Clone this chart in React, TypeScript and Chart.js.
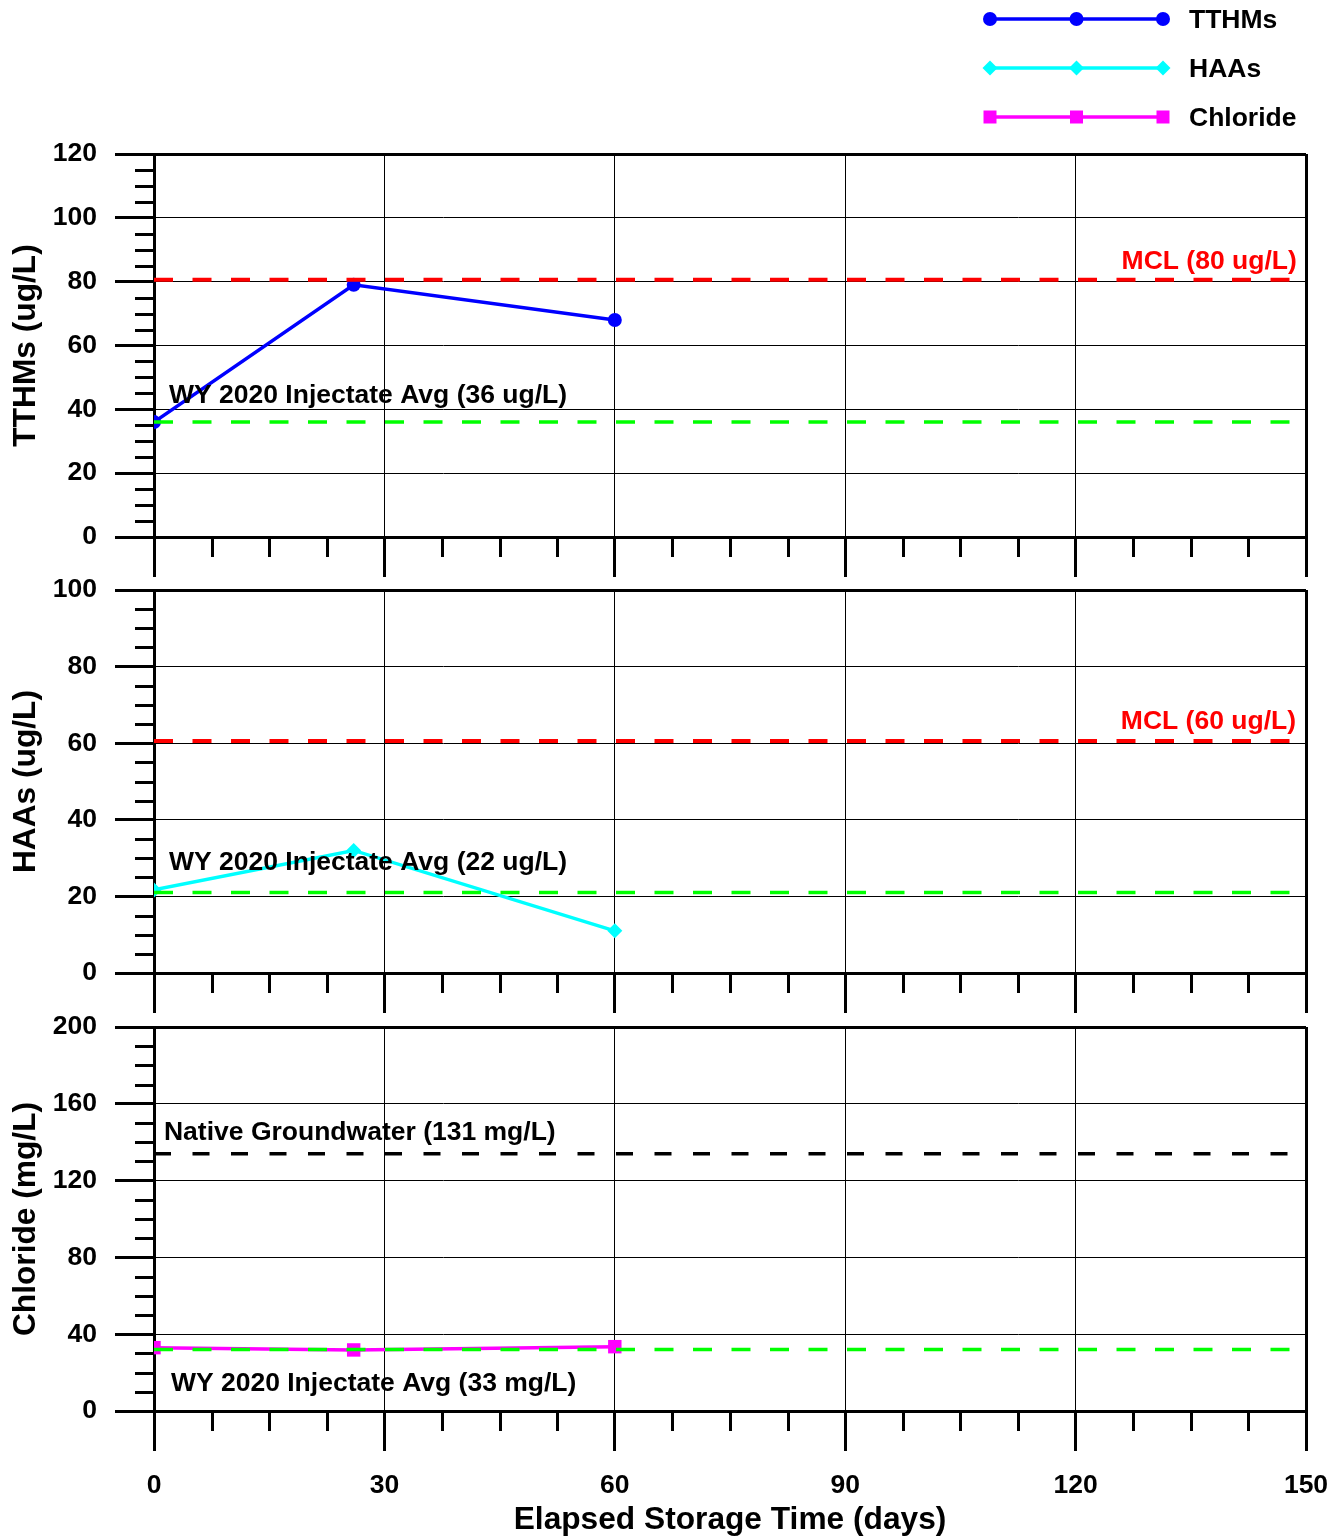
import React, { useEffect, useRef } from "react";
import { Chart, registerables } from "chart.js";

Chart.register(...registerables);

// ---------- data ----------
const days = [0, 26, 60];
const tthmValues = [36, 79, 68];
const haaValues = [21.7, 32, 11];
const chlorideValues = [33, 31.8, 33.5];

const seriesNames = ["TTHMs", "HAAs", "Chloride"];
const seriesColors = ["#0000ff", "#00ffff", "#ff00ff"];
const seriesPointStyles = ["circle", "rectRot", "rect"];

const xTickValues = [0, 30, 60, 90, 120, 150];
const xTitle = "Elapsed Storage Time (days)";

const yTitles = ["TTHMs (ug/L)", "HAAs (ug/L)", "Chloride (mg/L)"];
const yMaxes = [120, 100, 200];
const yMajorSteps = [20, 20, 40];
const yMinorSteps = [5, 5, 10];

// reference lines per panel
const tthmRefValues = [80.6, 36];
const tthmRefColors = ["#ff0000", "#00ff00"];
const haaRefValues = [60.6, 21];
const haaRefColors = ["#ff0000", "#00ff00"];
const chlorideRefValues = [134, 32];
const chlorideRefColors = ["#000000", "#00ff00"];

const tthmLabels = ["MCL (80 ug/L)", "WY 2020 Injectate Avg (36 ug/L)"];
const haaLabels = ["MCL (60 ug/L)", "WY 2020 Injectate Avg (22 ug/L)"];
const chlorideLabels = ["Native Groundwater (131 mg/L)", "WY 2020 Injectate Avg (33 mg/L)"];

// ---------- styling / layout ----------
const FONT = "'Liberation Sans', Arial, Helvetica, sans-serif";
const TICK_SIZE = 26.5;
const TITLE_SIZE = 31.7;
const W = 1342;

Chart.defaults.font.family = FONT;

type LabelSpec = { text: string; color: string; align: CanvasTextAlign; x: number; y: number };

type PanelSpec = {
  values: number[];
  seriesIndex: number;
  refValues: number[];
  refColors: string[];
  refDashes: number[][];
  refWidths: number[];
  labels: LabelSpec[];
  yTitle: string;
  yMax: number;
  yStep: number;
  yMinor: number;
  top: number;
  height: number;
  areaTop: number;
  areaBottom: number;
  showX: boolean;
  legend: boolean;
};

const redDash = [19, 19.5];
const greenDash = [19, 19.5];
const blackDash = [17, 21.5];

const panels: PanelSpec[] = [
  {
    values: tthmValues,
    seriesIndex: 0,
    refValues: tthmRefValues,
    refColors: tthmRefColors,
    refDashes: [redDash, greenDash],
    refWidths: [4, 3.5],
    labels: [
      { text: tthmLabels[0], color: "#ff0000", align: "right", x: 148.8, y: 86.2 },
      { text: tthmLabels[1], color: "#000000", align: "left", x: 1.95, y: 44.2 },
    ],
    yTitle: yTitles[0],
    yMax: yMaxes[0],
    yStep: yMajorSteps[0],
    yMinor: yMinorSteps[0],
    top: 0,
    height: 580,
    areaTop: 154,
    areaBottom: 537,
    showX: false,
    legend: true,
  },
  {
    values: haaValues,
    seriesIndex: 1,
    refValues: haaRefValues,
    refColors: haaRefColors,
    refDashes: [redDash, greenDash],
    refWidths: [4, 3.5],
    labels: [
      { text: haaLabels[0], color: "#ff0000", align: "right", x: 148.7, y: 65.6 },
      { text: haaLabels[1], color: "#000000", align: "left", x: 1.95, y: 28.7 },
    ],
    yTitle: yTitles[1],
    yMax: yMaxes[1],
    yStep: yMajorSteps[1],
    yMinor: yMinorSteps[1],
    top: 540,
    height: 480,
    areaTop: 50,
    areaBottom: 433,
    showX: false,
    legend: false,
  },
  {
    values: chlorideValues,
    seriesIndex: 2,
    refValues: chlorideRefValues,
    refColors: chlorideRefColors,
    refDashes: [blackDash, greenDash],
    refWidths: [3.5, 3.5],
    labels: [
      { text: chlorideLabels[0], color: "#000000", align: "left", x: 1.3, y: 144.8 },
      { text: chlorideLabels[1], color: "#000000", align: "left", x: 2.2, y: 14.1 },
    ],
    yTitle: yTitles[2],
    yMax: yMaxes[2],
    yStep: yMajorSteps[2],
    yMinor: yMinorSteps[2],
    top: 980,
    height: 557,
    areaTop: 47,
    areaBottom: 431,
    showX: true,
    legend: false,
  },
];

const pointRadii = [7, 7.5, 9.5];

function drawMarker(ctx: CanvasRenderingContext2D, style: string, x: number, y: number, color: string) {
  ctx.fillStyle = color;
  ctx.beginPath();
  if (style === "circle") {
    ctx.arc(x, y, 7, 0, Math.PI * 2);
  } else if (style === "rectRot") {
    ctx.moveTo(x, y - 7.5);
    ctx.lineTo(x + 7.5, y);
    ctx.lineTo(x, y + 7.5);
    ctx.lineTo(x - 7.5, y);
    ctx.closePath();
  } else {
    ctx.rect(x - 6.5, y - 6.5, 13, 13);
  }
  ctx.fill();
}

function PanelChart({ spec }: { spec: PanelSpec }) {
  const ref = useRef<HTMLCanvasElement>(null);
  useEffect(() => {
    const canvas = ref.current;
    if (!canvas) return;
    const s = spec;
    const color = seriesColors[s.seriesIndex];

    const decorPlugin = {
      id: "decor" + s.seriesIndex,
      beforeDatasetsDraw(chart: any) {
        const { ctx, chartArea } = chart;
        const x = chart.scales.x;
        const y = chart.scales.y;
        ctx.save();
        ctx.strokeStyle = "#000";
        ctx.lineWidth = 3;
        ctx.beginPath();
        for (let v = 0; v <= s.yMax + 1e-9; v += s.yMinor) {
          if (Math.abs(v % s.yStep) < 1e-9) continue;
          const py = Math.round(y.getPixelForValue(v)) + 0.5;
          ctx.moveTo(chartArea.left - 19, py);
          ctx.lineTo(chartArea.left, py);
        }
        for (let v = 0; v <= 150 + 1e-9; v += 7.5) {
          if (Math.abs(v % 30) < 1e-9) continue;
          const px = Math.round(x.getPixelForValue(v)) + 0.5;
          ctx.moveTo(px, chartArea.bottom);
          ctx.lineTo(px, chartArea.bottom + 20);
        }
        ctx.stroke();
        ctx.restore();
      },
      afterDatasetsDraw(chart: any) {
        const { ctx } = chart;
        const x = chart.scales.x;
        const y = chart.scales.y;
        ctx.save();
        ctx.font = `bold ${TICK_SIZE}px ${FONT}`;
        ctx.textBaseline = "middle";
        for (const l of s.labels) {
          ctx.fillStyle = l.color;
          ctx.textAlign = l.align;
          ctx.fillText(l.text, x.getPixelForValue(l.x), y.getPixelForValue(l.y));
        }
        ctx.restore();
      },
      afterDraw(chart: any) {
        if (!s.legend) return;
        const { ctx } = chart;
        const rowsY = [19, 68, 117];
        ctx.save();
        for (let i = 0; i < seriesNames.length; i++) {
          const ly = rowsY[i];
          ctx.strokeStyle = seriesColors[i];
          ctx.lineWidth = 3.5;
          ctx.beginPath();
          ctx.moveTo(990, ly);
          ctx.lineTo(1163, ly);
          ctx.stroke();
          for (const mx of [990, 1076.5, 1163]) drawMarker(ctx, seriesPointStyles[i], mx, ly, seriesColors[i]);
          ctx.fillStyle = "#000";
          ctx.font = `bold ${TICK_SIZE}px ${FONT}`;
          ctx.textAlign = "left";
          ctx.textBaseline = "middle";
          ctx.fillText(seriesNames[i], 1189, ly + 2);
        }
        ctx.restore();
      },
    };

    const refDatasets = s.refValues.map((v, i) => ({
      label: "ref" + i,
      data: [
        { x: 0, y: v },
        { x: 150, y: v },
      ],
      borderColor: s.refColors[i],
      backgroundColor: s.refColors[i],
      borderWidth: s.refWidths[i],
      borderDash: s.refDashes[i],
      pointRadius: 0,
      fill: false,
    }));

    const chart = new Chart(canvas, {
      type: "line",
      data: {
        datasets: [
          ...refDatasets,
          {
            label: seriesNames[s.seriesIndex],
            data: days.map((d, i) => ({ x: d, y: s.values[i] })),
            borderColor: color,
            backgroundColor: color,
            borderWidth: 3.5,
            pointStyle: seriesPointStyles[s.seriesIndex] as any,
            pointRadius: pointRadii[s.seriesIndex],
            pointBorderWidth: 0,
            fill: false,
            tension: 0,
          },
        ] as any,
      },
      plugins: [decorPlugin],
      options: {
        responsive: false,
        animation: false,
        events: [],
        layout: { padding: { top: s.areaTop, right: 36, left: 0, bottom: 0 } },
        plugins: { legend: { display: false }, tooltip: { enabled: false } },
        scales: {
          x: {
            type: "linear",
            min: 0,
            max: 150,
            afterBuildTicks: (sc: any) => {
              sc.ticks = xTickValues.map((v) => ({ value: v }));
            },
            ticks: {
              display: s.showX,
              padding: 19,
              color: "#000",
              maxRotation: 0,
              autoSkip: false,
              font: { size: TICK_SIZE, weight: "bold", family: FONT },
            },
            grid: {
              color: "#000",
              lineWidth: (c: any) => (c.tick && (c.tick.value === 0 || c.tick.value === 150) ? 3 : 1),
              tickLength: 40,
              tickWidth: 3,
              tickColor: "#000",
              drawTicks: true,
            },
            border: { display: true, color: "#000", width: 3 },
            title: {
              display: s.showX,
              text: xTitle,
              color: "#000",
              font: { size: TITLE_SIZE, weight: "bold", family: FONT },
              padding: { top: 0, bottom: -2 },
            },
            afterFit: (sc: any) => {
              sc.height = s.height - s.areaBottom;
              sc.paddingLeft = 0;
              sc.paddingRight = 0;
            },
          },
          y: {
            type: "linear",
            min: 0,
            max: s.yMax,
            ticks: {
              stepSize: s.yStep,
              padding: 18,
              color: "#000",
              font: { size: TICK_SIZE, weight: "bold", family: FONT },
            },
            grid: {
              color: "#000",
              lineWidth: (c: any) => (c.tick && c.tick.value === s.yMax ? 3 : 1),
              tickLength: 39,
              tickWidth: 3,
              tickColor: "#000",
            },
            border: { display: true, color: "#000", width: 3 },
            title: {
              display: true,
              text: s.yTitle,
              color: "#000",
              font: { size: TITLE_SIZE, weight: "bold", family: FONT },
              padding: { top: 7, bottom: 0 },
            },
            afterFit: (sc: any) => {
              sc.width = 154;
              sc.paddingTop = 0;
              sc.paddingBottom = 0;
            },
          },
        },
      } as any,
    });
    return () => chart.destroy();
  }, [spec]);

  return (
    <canvas
      ref={ref}
      width={W}
      height={spec.height}
      style={{ position: "absolute", left: 0, top: spec.top, width: W, height: spec.height }}
    />
  );
}

export default function App() {
  return (
    <div style={{ position: "absolute", left: 0, top: 0, width: W, height: 1537, background: "#fff" }}>
      {panels.map((p, i) => (
        <PanelChart key={i} spec={p} />
      ))}
    </div>
  );
}
